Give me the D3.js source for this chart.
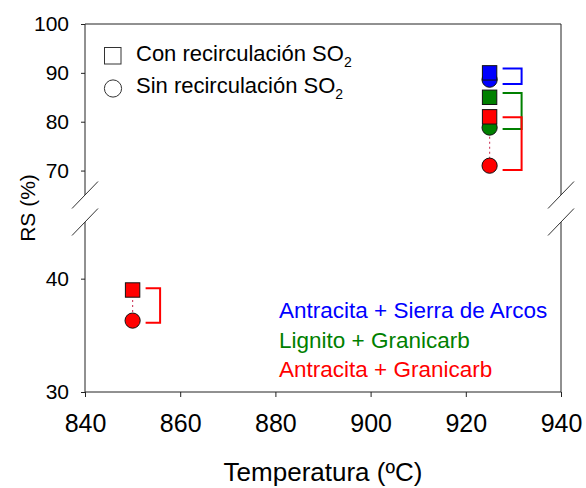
<!DOCTYPE html>
<html>
<head>
<meta charset="utf-8">
<script src="https://cdn.jsdelivr.net/npm/d3@7"></script>
<style>
  html, body { margin: 0; padding: 0; background: #fff; }
  svg { display: block; font-family: "Liberation Sans", Arial, sans-serif; }
</style>
</head>
<body>
<svg id="chart" width="586" height="488"></svg>
<script>
// ---- data ----
const seriesNames = ["Antracita + Sierra de Arcos", "Lignito + Granicarb", "Antracita + Granicarb"];
const seriesColors = ["#0000ff", "#008000", "#ff0000"];
const pointSeries = [0, 1, 2, 2];
const pointTemp = [925, 925, 925, 850];
const conSO2 = [90.0, 85.0, 81.0, 39.0];   // Con recirculación SO2 (squares)
const sinSO2 = [88.6, 78.8, 71.0, 36.3];   // Sin recirculación SO2 (circles)
const bracketTop = [90.9, 85.9, 80.9, 39.15];
const bracketBottom = [87.7, 78.5, 70.1, 36.1];
const dottedLink = [false, false, true, true];
const xTicks = [840, 860, 880, 900, 920, 940];
const yTicksUpper = [70, 80, 90, 100];
const yTicksLower = [30, 40];
const legendLabels = ["Con recirculación SO", "Sin recirculación SO"];

// ---- layout ----
const svg = d3.select("#chart");
const left = 85, right = 561;
const x = d3.scaleLinear().domain([840, 940]).range([left, right]);
const yU = d3.scaleLinear().domain([65, 100]).range([195, 24]);
const yL = d3.scaleLinear().domain([30, 45]).range([392, 222]);
const y = v => (v >= 55 ? yU(v) : yL(v));
const axisColor = "#222";

// frame segments
const frame = svg.append("g").attr("stroke", axisColor).attr("stroke-width", 1).attr("fill", "none");
frame.append("line").attr("x1", left).attr("x2", right).attr("y1", yU(100)).attr("y2", yU(100));
[left, right].forEach(xx => {
  frame.append("line").attr("x1", xx).attr("x2", xx).attr("y1", yU(100)).attr("y2", yU(65));
  frame.append("line").attr("x1", xx).attr("x2", xx).attr("y1", yL(45)).attr("y2", yL(30));
  // break slashes
  [yU(65), yL(45)].forEach(yy => {
    frame.append("line").attr("x1", xx - 13).attr("y1", yy + 13.5).attr("x2", xx + 13).attr("y2", yy - 13.5)
      .attr("stroke", "#333");
  });
});

// x axis
const xAxis = svg.append("g").attr("transform", `translate(0,${yL(30)})`)
  .call(d3.axisBottom(x).tickValues(xTicks).tickSize(5).tickPadding(17).tickFormat(d3.format("d")));
xAxis.select(".domain").attr("stroke", axisColor).attr("d", `M${left},0H${right}`);
xAxis.selectAll(".tick line").attr("stroke", axisColor);
xAxis.selectAll(".tick text").attr("font-size", 25).attr("fill", "#000").attr("font-family", "Liberation Sans, Arial, sans-serif");

// y axes
function yAxisGroup(scale, ticks) {
  const g = svg.append("g").attr("transform", `translate(${left},0)`)
    .call(d3.axisLeft(scale).tickValues(ticks).tickSize(4).tickPadding(12).tickFormat(d3.format("d")));
  g.select(".domain").remove();
  g.selectAll(".tick line").attr("stroke", axisColor);
  g.selectAll(".tick text").attr("font-size", 21).attr("fill", "#000").attr("font-family", "Liberation Sans, Arial, sans-serif");
}
yAxisGroup(yU, yTicksUpper);
yAxisGroup(yL, yTicksLower);

// axis titles
svg.append("text").attr("x", (left + right) / 2).attr("y", 481).attr("text-anchor", "middle")
  .attr("font-size", 26).text("Temperatura (ºC)");
svg.append("text").attr("transform", "translate(35,208) rotate(-90)").attr("text-anchor", "middle")
  .attr("font-size", 21).text("RS (%)");

// data
const idx = d3.range(pointTemp.length);
const bracketLen = idx.map(i => (pointTemp[i] > 900 ? 19 : 14.5));

// dotted links
svg.append("g").selectAll("line").data(idx.filter(i => dottedLink[i])).join("line")
  .attr("x1", i => x(pointTemp[i])).attr("x2", i => x(pointTemp[i]))
  .attr("y1", i => y(conSO2[i])).attr("y2", i => y(sinSO2[i]))
  .attr("stroke", "#d04a6a").attr("stroke-width", 1.2).attr("stroke-dasharray", "2,3");

// brackets
svg.append("g").selectAll("path").data(idx).join("path")
  .attr("fill", "none").attr("stroke-width", 2)
  .attr("stroke", i => seriesColors[pointSeries[i]])
  .attr("d", i => {
    const x0 = x(pointTemp[i]) + 13, x1 = x0 + bracketLen[i];
    return `M${x0},${y(bracketTop[i])}H${x1}V${y(bracketBottom[i])}H${x0}`;
  });

// circles (sin recirculación)
svg.append("g").selectAll("circle").data(idx).join("circle")
  .attr("cx", i => x(pointTemp[i])).attr("cy", i => y(sinSO2[i])).attr("r", 7.6)
  .attr("fill", i => seriesColors[pointSeries[i]]).attr("stroke", "#111").attr("stroke-width", 1);

// squares (con recirculación)
const sq = 14.4;
svg.append("g").selectAll("rect").data(idx).join("rect")
  .attr("x", i => x(pointTemp[i]) - sq / 2).attr("y", i => y(conSO2[i]) - sq / 2)
  .attr("width", sq).attr("height", sq)
  .attr("fill", i => seriesColors[pointSeries[i]]).attr("stroke", "#111").attr("stroke-width", 1);

// legend (symbols)
const leg = svg.append("g");
leg.append("rect").attr("x", 104.5).attr("y", 47.5).attr("width", 16.5).attr("height", 16.5)
  .attr("fill", "#fff").attr("stroke", "#333").attr("stroke-width", 1);
leg.append("circle").attr("cx", 113).attr("cy", 88.5).attr("r", 8.6)
  .attr("fill", "#fff").attr("stroke", "#333").attr("stroke-width", 1);
legendLabels.forEach((t, k) => {
  const tx = leg.append("text").attr("x", 136).attr("y", 61 + k * 32).attr("font-size", 22);
  tx.append("tspan").text(t);
  tx.append("tspan").attr("font-size", 14).attr("dy", 6).text("2");
});

// series labels
svg.append("g").selectAll("text").data(seriesNames).join("text")
  .attr("x", 279).attr("y", (d, k) => 318 + k * 29.5)
  .attr("font-size", 22.5).attr("fill", (d, k) => seriesColors[k]).text(d => d);
</script>
</body>
</html>
